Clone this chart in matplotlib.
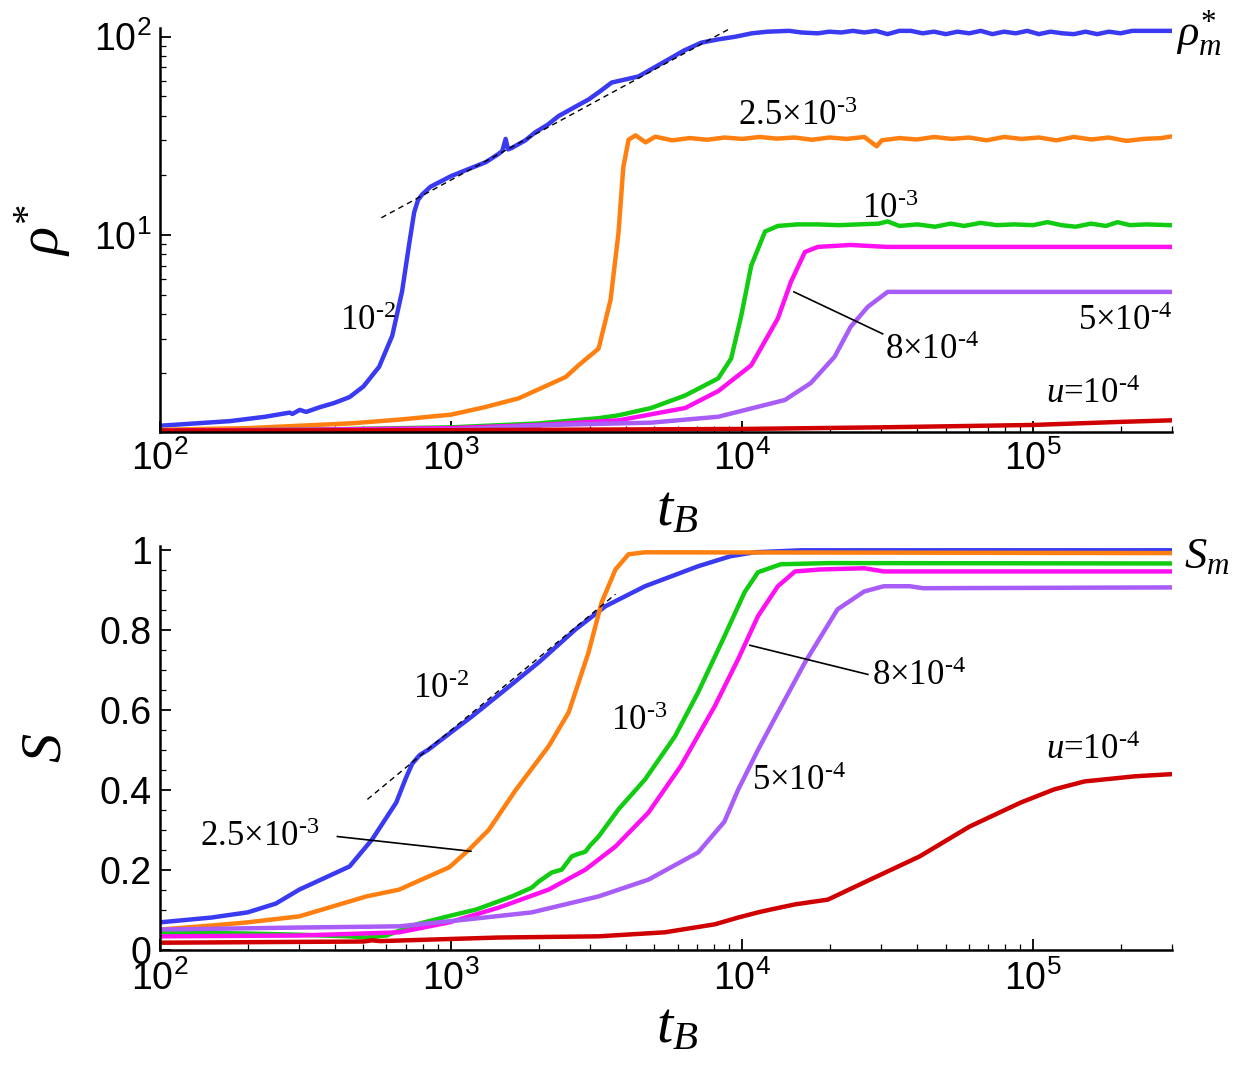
import numpy as np
import matplotlib
matplotlib.use('Agg')
import matplotlib.pyplot as plt
from matplotlib.ticker import LogLocator, MultipleLocator, NullFormatter, FixedLocator

plt.rcParams['font.family'] = 'Liberation Sans'
plt.rcParams['mathtext.fontset'] = 'custom'
plt.rcParams['mathtext.rm'] = 'Liberation Serif'
plt.rcParams['mathtext.it'] = 'Liberation Serif:italic'

# ---------------- top panel: rho* vs t_B ----------------
t_rho_u1e2 = [100, 174, 230, 279, 285, 302, 318, 353, 397, 448, 500, 566, 628, 679, 718, 747,
              770, 796, 850, 1000, 1150, 1318, 1450, 1500, 1540, 1570, 1620, 1800, 1951, 2150,
              2343, 2650, 2967, 3250, 3564, 4000, 4404, 5000, 5560, 6300, 7240, 8300, 9500,
              10800, 12260, 14500, 16000,
              18200, 19950, 21900, 24000, 26300, 28800, 31600, 34700, 38000, 41700, 45700,
              50100, 55000, 60300, 66100, 72400, 79400, 87100, 95500, 104700, 114800, 125900,
              138000, 151400, 166000, 182000, 199500, 218800, 239900, 263000, 295000]
rho_u1e2 = [1.09, 1.15, 1.21, 1.27, 1.25, 1.31, 1.28, 1.35, 1.42, 1.52, 1.72, 2.16, 3.1, 5.2,
            9.0, 13.0, 15.0, 16.0, 17.5, 19.8, 21.5, 23.3, 25.5, 26.5, 30.5, 27.0, 27.5, 30.0,
            33.0, 36.0, 39.8, 44.0, 48.2, 53.0, 58.7, 61.0, 63.0, 70.0, 76.5, 85.0, 93.3, 97.0,
            100.0, 104.0, 106.0, 107.0, 105.0,
            104, 106, 105, 107, 105, 107, 103, 107, 107, 104, 106, 103, 106, 104, 107, 103,
            106, 104, 107, 103, 106, 104, 103, 106, 103, 106, 104, 107, 107, 107, 107]

t_rho_u25e4 = [100, 200, 301, 450, 663, 1000, 1300, 1710, 2477, 2743, 3213, 3532, 3760, 3908,
               4073, 4305, 4660, 5035, 5754, 6607, 7586, 8710, 10000, 11482, 13183, 15136,
               17378, 19953, 22909, 26303, 29000, 30200, 34674, 39811, 45709, 52481, 60256,
               69183, 79433, 91201, 104713, 120226, 138000, 158489, 181970, 208930, 239883,
               275423, 295121]
rho_u25e4 = [1.04, 1.06, 1.09, 1.12, 1.17, 1.24, 1.35, 1.50, 1.92, 2.20, 2.67, 4.7, 10.2, 22.0,
             30.2, 31.8, 29.3, 31.3, 30.0, 30.8, 30.2, 31.0, 30.5, 31.2, 30.6, 31.0, 30.2, 31.0,
             30.5, 31.2, 28.0, 30.0, 30.8, 30.3, 31.2, 30.5, 31.0, 30.0, 31.2, 30.5, 31.0, 30.0,
             31.2, 30.3, 31.0, 29.8, 30.5, 30.8, 31.3]

t_rho_u1e3 = [100, 300, 1000, 2000, 3213, 3760, 4875, 6383, 8280, 9170, 9930, 10750, 11990,
              13270, 15500, 18200, 21400, 25100, 29500, 31600, 34700, 40000, 46000, 52000,
              58000, 66000, 75000, 86000, 100000, 112000, 125000, 140000, 158000, 178000,
              195000, 215000, 245000, 295000]
rho_u1e3 = [1.03, 1.04, 1.07, 1.12, 1.19, 1.23, 1.34, 1.55, 1.89, 2.38, 3.9, 7.0, 10.4, 11.1,
            11.3, 11.3, 11.2, 11.3, 11.4, 11.7, 11.1, 11.3, 11.0, 11.4, 11.1, 11.5, 11.2, 11.3,
            11.2, 11.6, 11.2, 11.0, 11.4, 11.1, 11.6, 11.2, 11.3, 11.2]

t_rho_u8e4 = [100, 300, 1000, 2000, 3760, 6383, 8280, 10750, 13270, 14720, 16440, 18200, 23600,
              31400, 295000]
rho_u8e4 = [1.03, 1.04, 1.06, 1.10, 1.16, 1.34, 1.63, 2.2, 3.79, 5.8, 8.2, 8.7, 8.9, 8.7, 8.7]

t_rho_u5e4 = [100, 1000, 2218, 4875, 8280, 14030, 17220, 20790, 23600, 27040, 31620, 295000]
rho_u5e4 = [1.02, 1.04, 1.10, 1.13, 1.21, 1.47, 1.79, 2.43, 3.44, 4.34, 5.16, 5.16]

t_rho_u1e4 = [100, 1000, 10000, 30000, 100000, 200000, 295000]
rho_u1e4 = [1.03, 1.035, 1.05, 1.07, 1.10, 1.14, 1.16]

rho_fit_t = [576, 9170]
rho_fit = [12.2, 110.7]

# ---------------- bottom panel: S vs t_B ----------------
t_S_u1e2 = [100, 150, 200, 250, 301, 448, 536, 648, 700, 735, 780, 837, 1000, 1181, 1542, 2000,
            2679, 3396, 4640, 7060, 9110, 11000, 16000, 295000]
S_u1e2 = [0.068, 0.08, 0.093, 0.115, 0.15, 0.208, 0.276, 0.368, 0.43, 0.465, 0.487, 0.501,
          0.544, 0.584, 0.652, 0.719, 0.802, 0.86, 0.91, 0.96, 0.985, 0.995, 1.0, 1.0]

t_S_u25e4 = [100, 150, 200, 301, 512, 663, 820, 986, 1153, 1349, 1670, 2164, 2536, 2967, 3290,
             3673, 4070, 4640, 295000]
S_u25e4 = [0.05, 0.06, 0.068, 0.083, 0.133, 0.150, 0.18, 0.206, 0.25, 0.30, 0.40, 0.509, 0.594,
           0.744, 0.869, 0.952, 0.99, 0.995, 0.993]

t_S_u1e3 = [100, 200, 301, 448, 512, 600, 760, 1000, 1219, 1620, 1894, 2000, 2220, 2400, 2597,
            2700, 2895, 3000, 3213, 3760, 4640, 5880, 7060, 8690, 10200, 11340, 13580, 20000,
            295000]
S_u1e3 = [0.043, 0.04, 0.037, 0.033, 0.03, 0.035, 0.063, 0.085, 0.1, 0.133, 0.155, 0.17, 0.193,
          0.2, 0.233, 0.238, 0.245, 0.26, 0.283, 0.351, 0.426, 0.534, 0.644, 0.784, 0.895, 0.945,
          0.965, 0.968, 0.967]

t_S_u8e4 = [100, 301, 663, 986, 1459, 2164, 2895, 3673, 4766, 6150, 8050, 9690, 11340, 13270,
            15200, 18610, 26300, 30700, 295000]
S_u8e4 = [0.033, 0.035, 0.043, 0.068, 0.105, 0.15, 0.2, 0.258, 0.343, 0.459, 0.609, 0.727,
          0.835, 0.91, 0.947, 0.952, 0.955, 0.947, 0.947]

t_S_u5e4 = [100, 301, 663, 1126, 1894, 3213, 4766, 7060, 8690, 9690, 11340, 12520, 16440,
            21270, 26300, 30700, 37600, 41900, 295000]
S_u5e4 = [0.05, 0.055, 0.058, 0.075, 0.093, 0.133, 0.175, 0.243, 0.32, 0.40, 0.5, 0.559,
          0.719, 0.852, 0.897, 0.91, 0.91, 0.905, 0.907]

t_S_u1e4 = [100, 500, 536, 570, 1459, 3213, 5420, 8050, 9690, 11340, 12520, 15200, 19720, 27530,
            40700, 60500, 90600, 118000, 150000, 225000, 295000]
S_u1e4 = [0.017, 0.02, 0.023, 0.021, 0.03, 0.033, 0.043, 0.063, 0.08, 0.093, 0.1, 0.113, 0.125,
          0.175, 0.233, 0.308, 0.368, 0.401, 0.421, 0.434, 0.439]

S_fit_t = [516, 3673]
S_fit = [0.376, 0.890]

colors = ['#3a3af2', '#ff8010', '#12cc12', '#ff10f0', '#a85cf8', '#d00000']

W, H = 1241, 1070
fig = plt.figure(figsize=(W / 100, H / 100), dpi=100)
ax1 = fig.add_axes([160 / W, 1 - 432.3 / H, 1012 / W, 404.6 / H])
ax2 = fig.add_axes([160 / W, 1 - 949.5 / H, 1012 / W, 404.0 / H])

top_series = [(t_rho_u1e2, rho_u1e2), (t_rho_u25e4, rho_u25e4), (t_rho_u1e3, rho_u1e3),
              (t_rho_u8e4, rho_u8e4), (t_rho_u5e4, rho_u5e4), (t_rho_u1e4, rho_u1e4)]
bot_series = [(t_S_u1e2, S_u1e2), (t_S_u25e4, S_u25e4), (t_S_u1e3, S_u1e3),
              (t_S_u8e4, S_u8e4), (t_S_u5e4, S_u5e4), (t_S_u1e4, S_u1e4)]

for (t, v), c in zip(top_series, colors):
    ax1.plot(t, v, color=c, lw=3.2, solid_joinstyle='round')
for (t, v), c in zip(bot_series, colors):
    ax2.plot(t, v, color=c, lw=3.2, solid_joinstyle='round')

ax1.plot(rho_fit_t, rho_fit, color='k', lw=1.0, dashes=(4, 3))
ax2.plot(S_fit_t, S_fit, color='k', lw=1.0, dashes=(4, 3))

for ax in (ax1, ax2):
    ax.set_xscale('log')
    ax.set_xlim(100, 3e5)
    ax.spines['top'].set_visible(False)
    ax.spines['right'].set_visible(False)
    ax.spines['left'].set_linewidth(1.8)
    ax.spines['bottom'].set_linewidth(1.8)
    ax.tick_params(which='both', direction='in', top=False, right=False)
    ax.tick_params(which='major', length=8, width=1.3, labelsize=27, pad=6)
    ax.tick_params(which='minor', length=4.5, width=0.9)
    ax.xaxis.set_minor_locator(LogLocator(base=10, subs=np.arange(2, 10), numticks=20))
    ax.xaxis.set_minor_formatter(NullFormatter())
ax2.tick_params(axis='x', which='major', pad=8)

ax1.set_yscale('log')
ax1.set_ylim(1.01, 111)
ax1.yaxis.set_minor_locator(LogLocator(base=10, subs=np.arange(2, 10), numticks=20))
ax1.yaxis.set_minor_formatter(NullFormatter())

ax2.set_ylim(0, 1.012)
ax2.yaxis.set_major_locator(FixedLocator([0, 0.2, 0.4, 0.6, 0.8, 1.0]))
ax2.set_yticklabels(['0', '0.2', '0.4', '0.6', '0.8', '1'])
ax2.yaxis.set_minor_locator(MultipleLocator(0.05))

ax1.set_ylabel(r'$\rho^{*}$', fontsize=42)
ax2.set_ylabel(r'$S$', fontsize=42)
ax1.yaxis.set_label_coords(-0.086, 0.5)
ax2.yaxis.set_label_coords(-0.086, 0.5)
for ax in (ax1, ax2):
    ax.set_xlabel(r'$t_B$', fontsize=42)
    ax.xaxis.set_label_coords(0.511, -0.125)

serif = dict(family='Liberation Serif', fontsize=25, ha='center', va='center')
u_label = r'$u\mathregular{\text{=}10^{\text{-}4}}$'
ax1.text(520, 3.64, r'$\mathregular{10^{\text{-}2}}$', **serif)
ax1.text(15560, 39.8, r'$\mathregular{2.5{\times}10^{\text{-}3}}$', **serif)
ax1.text(32140, 13.4, r'$\mathregular{10^{\text{-}3}}$', **serif)
ax1.text(44770, 2.60, r'$\mathregular{8{\times}10^{\text{-}4}}$', **serif)
ax1.text(206500, 3.64, r'$\mathregular{5{\times}10^{\text{-}4}}$', **serif)
ax1.text(160300, 1.56, u_label, **serif)
ax1.text(3.1e5, 104.5, r'$\rho^{*}_{m}$', fontsize=32, ha='left', va='center')
ax1.plot([15070, 30400], [5.16, 3.17], color='k', lw=1.2)

ax2.text(924, 0.652, r'$\mathregular{10^{\text{-}2}}$', **serif)
ax2.text(220, 0.281, r'$\mathregular{2.5{\times}10^{\text{-}3}}$', **serif)
ax2.text(4434, 0.571, r'$\mathregular{10^{\text{-}3}}$', **serif)
ax2.text(40360, 0.684, r'$\mathregular{8{\times}10^{\text{-}4}}$', **serif)
ax2.text(15670, 0.421, r'$\mathregular{5{\times}10^{\text{-}4}}$', **serif)
ax2.text(160300, 0.499, u_label, **serif)
ax2.text(3.3e5, 0.985, r'$S_{m}$', fontsize=32, ha='left', va='center')
ax2.plot([407, 1170], [0.283, 0.246], color='k', lw=1.2)
ax2.plot([10640, 27060], [0.762, 0.689], color='k', lw=1.2)

fig.savefig('out.png', dpi=100)
